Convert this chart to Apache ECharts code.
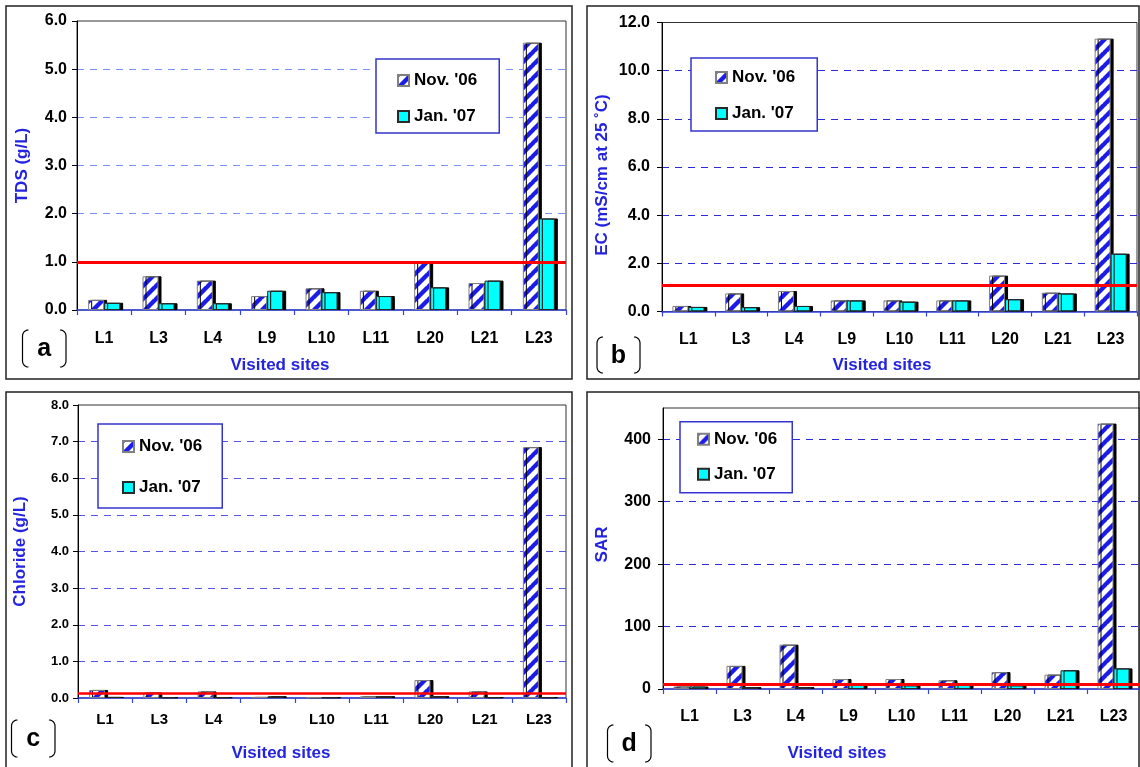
<!DOCTYPE html>
<html><head><meta charset="utf-8">
<script src="https://cdn.jsdelivr.net/npm/echarts@6/dist/echarts.min.js"></script>
<style>html,body{margin:0;padding:0;background:#fff}#c{width:1140px;height:767px}</style>
</head><body><div id="c"></div>
<script>
// ---- data ----
const sites = ['L1','L3','L4','L9','L10','L11','L20','L21','L23'];
const seriesNames = ["Nov. '06", "Jan. '07"];
const tdsNov = [0.21,0.70,0.61,0.29,0.45,0.40,1.01,0.56,5.55];
const tdsJan = [0.15,0.14,0.14,0.40,0.37,0.29,0.47,0.61,1.90];
const ecNov  = [0.23,0.75,0.85,0.46,0.46,0.46,1.49,0.78,11.33];
const ecJan  = [0.19,0.18,0.23,0.46,0.41,0.46,0.51,0.75,2.40];
const clNov  = [0.22,0.15,0.18,0.03,0.02,0.05,0.49,0.18,6.85];
const clJan  = [0.03,0.02,0.02,0.05,0.02,0.05,0.05,0.02,0.02];
const sarNov = [4,37,71,16,16,14,27,23,425];
const sarJan = [4,3,3,7,6,7,6,30,33];
const tdsLimit = 1.0, ecLimit = 1.1, clLimit = 0.14, sarLimit = 8;
const yNames = ['TDS (g/L)', 'EC (mS/cm at 25 \u02DAC)', 'Chloride (g/L)', 'SAR'];
const panelLetters = ['a','b','c','d'];
const xTitle = 'Visited sites';

// ---- layout / style ----
const FONT = "'Liberation Sans', Arial, sans-serif";
const BLUE = '#2323e0';
const panels = [
  {nov: tdsNov, jan: tdsJan, limit: tdsLimit, max: 6, interval: 1, dec: 1,
   grid: {left: 77, top: 21, width: 489, height: 289}, grid_color: '#7b93f5',
   yLabelSize: 16, yMargin: 10, xLabelSize: 16, xMargin: 21, nameGap: 46, namePad: [0,0,0,0],
   legend: {left: 376, top: 59, padding: [13, 22, 8, 21], itemGap: 19},
   border: [6, 6, 566, 373], title: [280, 365], letterBox: [22.5, 66, 330, 367], lineW: 3},
  {nov: ecNov, jan: ecJan, limit: ecLimit, max: 12, interval: 2, dec: 1,
   grid: {left: 662, top: 22.5, width: 475, height: 289}, grid_color: '#2b2bd9',
   yLabelSize: 16, yMargin: 12, xLabelSize: 16, xMargin: 20, nameGap: 51, namePad: [0,16,0,0],
   legend: {left: 691, top: 58, padding: [11, 22, 9, 24], itemGap: 19},
   border: [587, 6, 552, 373], title: [882, 365], letterBox: [597, 640, 337, 373], lineW: 3},
  {nov: clNov, jan: clJan, limit: clLimit, max: 8, interval: 1, dec: 1,
   grid: {left: 78, top: 405, width: 488, height: 293}, grid_color: '#5656e6',
   yLabelSize: 13, yMargin: 9, xLabelSize: 15, xMargin: 14, nameGap: 49, namePad: [0,0,0,0],
   legend: {left: 98, top: 424, padding: [14, 20, 12, 24], itemGap: 24},
   border: [6, 392, 566, 380], title: [281, 753], letterBox: [11.5, 55, 720, 757], lineW: 2.5},
  {nov: sarNov, jan: sarJan, limit: sarLimit, max: 450, interval: 100, dec: 0,
   grid: {left: 663, top: 408, width: 480, height: 281}, grid_color: '#2b2bd9',
   yLabelSize: 16, yMargin: 12, xLabelSize: 16, xMargin: 20, nameGap: 52, namePad: [0,0,0,8],
   legend: {left: 680, top: 421.7, padding: [9, 15, 10, 17], itemGap: 18},
   border: [587, 392, 552, 380], title: [837, 753], letterBox: [607.5, 651, 725, 762], lineW: 3}
];

function stripePattern() {
  const s = 13, c = document.createElement('canvas');
  c.width = s; c.height = s;
  const g = c.getContext('2d');
  g.fillStyle = '#fff'; g.fillRect(0, 0, s, s);
  g.strokeStyle = '#1c1ce8'; g.lineWidth = 4.4;
  g.beginPath();
  for (let k = -1; k <= 1; k++) { g.moveTo(k * s - 1, s + 1); g.lineTo(k * s + s + 1, -1); }
  g.stroke();
  return c;
}
const stripe = {image: stripePattern(), repeat: 'repeat'};

function bracketPoints(x, y0, y1, dir, r) {
  const pts = [];
  const n = 6;
  for (let k = 0; k <= n; k++) {
    const a = Math.PI / 2 * k / n;
    pts.push([x + dir * (r - r * Math.sin(a)), y0 + r - r * Math.cos(a)]);
  }
  for (let k = 0; k <= n; k++) {
    const a = Math.PI / 2 * k / n;
    pts.push([x + dir * (r - r * Math.cos(a)), y1 - r + r * Math.sin(a)]);
  }
  return pts;
}

const grids = [], xAxes = [], yAxes = [], series = [], legends = [], graphics = [];
panels.forEach((p, i) => {
  grids.push(Object.assign({show: true, borderColor: '#333', borderWidth: 1, backgroundColor: 'transparent'}, p.grid));
  xAxes.push({
    type: 'category', gridIndex: i, data: sites,
    axisLine: {lineStyle: {color: '#3344dd', width: 1.5}},
    axisTick: {show: true, length: 5, lineStyle: {color: '#3344dd', width: 1.2}},
    axisLabel: {color: '#000', fontWeight: 'bold', fontSize: p.xLabelSize, fontFamily: FONT, margin: p.xMargin},
    splitLine: {show: false}
  });
  yAxes.push({
    type: 'value', gridIndex: i, min: 0, max: p.max, interval: p.interval,
    name: yNames[i], nameLocation: 'middle', nameGap: p.nameGap,
    nameTextStyle: {color: BLUE, fontWeight: 'bold', fontSize: 17, fontFamily: FONT, padding: p.namePad},
    axisLine: {show: true, lineStyle: {color: '#000', width: 1}},
    axisTick: {show: true, length: 5, lineStyle: {color: '#000'}},
    axisLabel: {color: '#000', fontWeight: 'bold', fontSize: p.yLabelSize, fontFamily: FONT, margin: p.yMargin,
      showMaxLabel: p.max % p.interval === 0,
      formatter: v => (p.max % p.interval && v === p.max) ? '' : v.toFixed(p.dec)},
    splitLine: {show: true, showMinLine: false, showMaxLine: false,
      lineStyle: {color: p.grid_color, type: [7, 6], width: 1}}
  });
  const shadow = {shadowColor: '#000', shadowBlur: 0, shadowOffsetX: 3, shadowOffsetY: 0};
  series.push({
    type: 'bar', name: seriesNames[0], xAxisIndex: i, yAxisIndex: i, data: p.nov,
    barWidth: 16, barGap: '0%',
    itemStyle: Object.assign({color: stripe, borderColor: '#808080', borderWidth: 1}, shadow),
    emphasis: {disabled: true}
  });
  series.push({
    type: 'bar', name: seriesNames[1], xAxisIndex: i, yAxisIndex: i, data: p.jan,
    barWidth: 16, barGap: '0%',
    itemStyle: Object.assign({color: '#00ffff', borderColor: '#2a2a2a', borderWidth: 1}, shadow),
    emphasis: {disabled: true},
    markLine: {silent: true, symbol: ['none', 'none'], label: {show: false}, z: 10,
      lineStyle: {color: '#ff0000', width: p.lineW, type: 'solid'},
      data: [{yAxis: p.limit}]}
  });
  legends.push(Object.assign({
    orient: 'vertical', data: seriesNames.map(n => ({name: n, icon: 'rect'})), itemWidth: 11, itemHeight: 11,
    borderColor: '#3434d0', borderWidth: 1.5, backgroundColor: '#fff', borderRadius: 0,
    selectedMode: false,
    textStyle: {color: '#000', fontWeight: 'bold', fontSize: 17, fontFamily: FONT},
    itemStyle: {shadowColor: 'rgba(0,0,0,0)', shadowBlur: 0, shadowOffsetX: 0, shadowOffsetY: 0}
  }, p.legend));
  graphics.push({type: 'rect', silent: true, shape: {x: p.border[0], y: p.border[1], width: p.border[2], height: p.border[3]},
    style: {fill: 'none', stroke: '#222', lineWidth: 1.5}});
  graphics.push({type: 'text', silent: true, x: p.title[0], y: p.title[1],
    style: {text: xTitle, fill: BLUE, font: 'bold 17px ' + FONT, align: 'center', verticalAlign: 'middle'}});
  const [x0, x1, y0, y1] = p.letterBox;
  graphics.push({type: 'polyline', silent: true, shape: {points: bracketPoints(x0, y0, y1, 1, 6)},
    style: {fill: null, stroke: '#000', lineWidth: 1.2}});
  graphics.push({type: 'polyline', silent: true, shape: {points: bracketPoints(x1, y0, y1, -1, 6)},
    style: {fill: null, stroke: '#000', lineWidth: 1.2}});
  graphics.push({type: 'text', silent: true, x: (x0 + x1) / 2, y: (y0 + y1) / 2 + 1,
    style: {text: panelLetters[i], fill: '#000', font: 'bold 25px ' + FONT, align: 'center', verticalAlign: 'middle'}});
});

const chart = echarts.init(document.getElementById('c'), null, {renderer: 'canvas'});
chart.setOption({
  animation: false,
  backgroundColor: '#fff',
  grid: grids, xAxis: xAxes, yAxis: yAxes, series: series, legend: legends,
  graphic: {elements: graphics}
});
</script>
</body></html>
